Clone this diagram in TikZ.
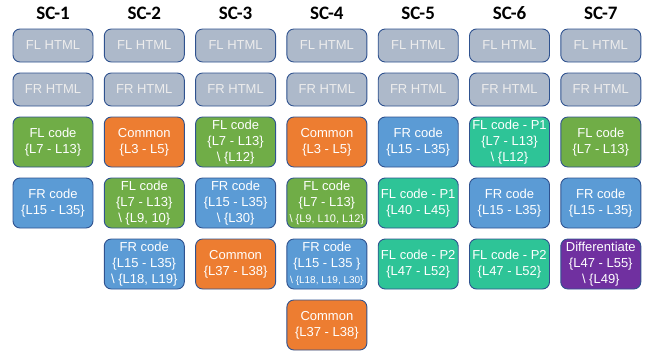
\documentclass[tikz,border=0pt]{standalone}
\usepackage{fontspec}
\setmainfont{Liberation Sans}
\newfontfamily\scfont{Carlito}
\usepackage{xcolor}
\usetikzlibrary{positioning}

\definecolor{htmlgray}{HTML}{ADB9CA}
\definecolor{htmltext}{HTML}{EDEDED}
\definecolor{edgeblue}{HTML}{2F528F}
\definecolor{flgreen}{HTML}{70AD47}
\definecolor{commorange}{HTML}{ED7D31}
\definecolor{frblue}{HTML}{5B9BD5}
\definecolor{partteal}{HTML}{2EC497}
\definecolor{diffpurple}{HTML}{7030A0}

\newcommand{\smallset}[2]{{\fontsize{#1}{#1}\selectfont\textbackslash\ \{#2\}}}

\begin{document}
\begin{tikzpicture}[
  node distance=11pt and 11.3pt,
  box/.style={draw=edgeblue, line width=0.9pt, rounded corners=7pt, outer sep=0pt,
              minimum width=80pt, inner xsep=1pt, inner ysep=1pt, align=center,
              font=\fontsize{13}{16}\selectfont, text=white},
  htmlbox/.style={box, fill=htmlgray, text=htmltext, minimum height=33pt},
  codebox/.style={box, minimum height=50pt},
  flcode/.style={codebox, fill=flgreen},
  frcode/.style={codebox, fill=frblue},
  common/.style={codebox, fill=commorange},
  partcode/.style={codebox, fill=partteal},
  diffcode/.style={codebox, fill=diffpurple},
  sctitle/.style={font={\fontsize{19}{22}\scfont\bfseries}, inner sep=0pt}
]
  \useasboundingbox (0pt,0pt) rectangle (649pt,-351pt);

  % SC-1
  \node[htmlbox] (fl1) at (53pt,-45.5pt) {FL HTML};
  \node[sctitle, above=9pt of fl1] (sc1) {SC-1};
  \node[htmlbox, below=of fl1] (fr1) {FR HTML};
  \node[flcode, below=of fr1] (c1a) {FL code\\\{L7 - L13\}};
  \node[frcode, below=of c1a] (c1b) {FR code\\\{L15 - L35\}};

  % SC-2
  \node[htmlbox, right=of fl1] (fl2) {FL HTML};
  \node[sctitle, above=9pt of fl2] (sc2) {SC-2};
  \node[htmlbox, below=of fl2] (fr2) {FR HTML};
  \node[common, below=of fr2] (c2a) {Common\\\{L3 - L5\}};
  \node[flcode, below=of c2a] (c2b) {FL code\\\{L7 - L13\}\\\textbackslash\ \{L9, 10\}};
  \node[frcode, below=of c2b] (c2c) {FR code\\\{L15 - L35\}\\\textbackslash\ \{L18, L19\}};

  % SC-3
  \node[htmlbox, right=of fl2] (fl3) {FL HTML};
  \node[sctitle, above=9pt of fl3] (sc3) {SC-3};
  \node[htmlbox, below=of fl3] (fr3) {FR HTML};
  \node[flcode, below=of fr3] (c3a) {FL code\\\{L7 - L13\}\\\textbackslash\ \{L12\}};
  \node[frcode, below=of c3a] (c3b) {FR code\\\{L15 - L35\}\\\textbackslash\ \{L30\}};
  \node[common, below=of c3b] (c3c) {Common\\\{L37 - L38\}};

  % SC-4
  \node[htmlbox, right=of fl3] (fl4) {FL HTML};
  \node[sctitle, above=9pt of fl4] (sc4) {SC-4};
  \node[htmlbox, below=of fl4] (fr4) {FR HTML};
  \node[common, below=of fr4] (c4a) {Common\\\{L3 - L5\}};
  \node[flcode, below=of c4a] (c4b) {FL code\\\{L7 - L13\}\\\smallset{11}{L9, L10, L12}};
  \node[frcode, below=of c4b] (c4c) {FR code\\\{L15 - L35 \}\\\smallset{10}{L18, L19, L30}};
  \node[common, below=of c4c] (c4d) {Common\\\{L37 - L38\}};

  % SC-5
  \node[htmlbox, right=of fl4] (fl5) {FL HTML};
  \node[sctitle, above=9pt of fl5] (sc5) {SC-5};
  \node[htmlbox, below=of fl5] (fr5) {FR HTML};
  \node[frcode, below=of fr5] (c5a) {FR code\\\{L15 - L35\}};
  \node[partcode, below=of c5a] (c5b) {FL code - P1\\\{L40 - L45\}};
  \node[partcode, below=of c5b] (c5c) {FL code - P2\\\{L47 - L52\}};

  % SC-6
  \node[htmlbox, right=of fl5] (fl6) {FL HTML};
  \node[sctitle, above=9pt of fl6] (sc6) {SC-6};
  \node[htmlbox, below=of fl6] (fr6) {FR HTML};
  \node[partcode, below=of fr6] (c6a) {FL code - P1\\\{L7 - L13\}\\\textbackslash\ \{L12\}};
  \node[frcode, below=of c6a] (c6b) {FR code\\\{L15 - L35\}};
  \node[partcode, below=of c6b] (c6c) {FL code - P2\\\{L47 - L52\}};

  % SC-7
  \node[htmlbox, right=of fl6] (fl7) {FL HTML};
  \node[sctitle, above=9pt of fl7] (sc7) {SC-7};
  \node[htmlbox, below=of fl7] (fr7) {FR HTML};
  \node[flcode, below=of fr7] (c7a) {FL code\\\{L7 - L13\}};
  \node[frcode, below=of c7a] (c7b) {FR code\\\{L15 - L35\}};
  \node[diffcode, below=of c7b] (c7c) {Differentiate\\\{L47 - L55\}\\\textbackslash\ \{L49\}};
\end{tikzpicture}
\end{document}
